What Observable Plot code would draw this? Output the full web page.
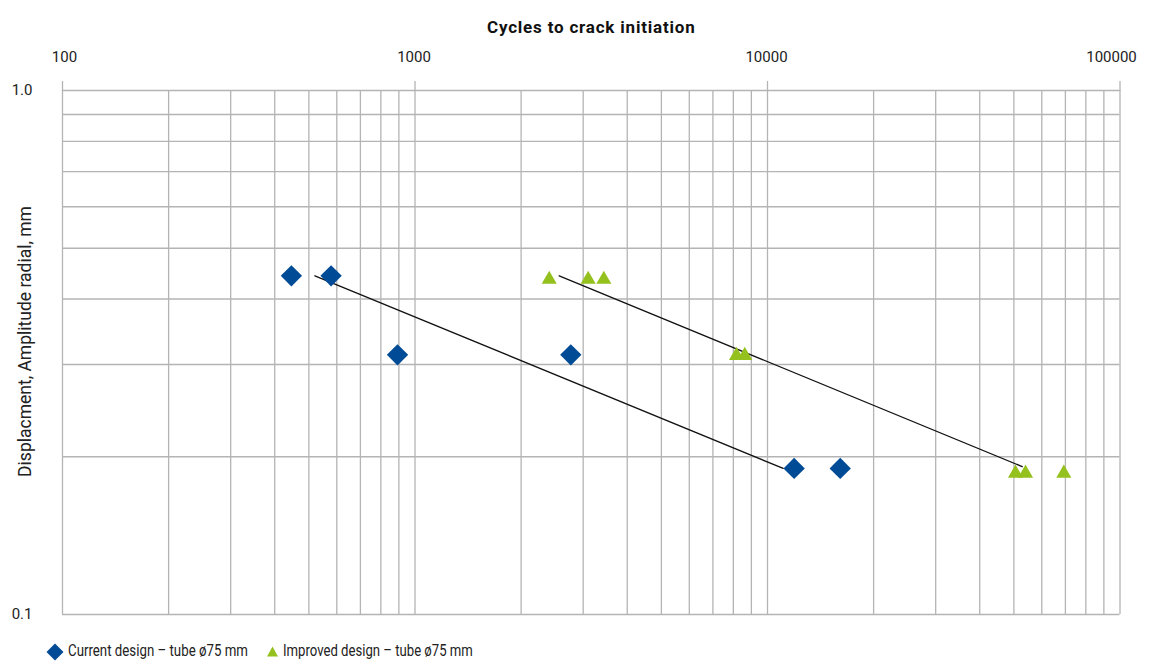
<!DOCTYPE html>
<html>
<head>
<meta charset="utf-8">
<script src="https://cdn.jsdelivr.net/npm/d3@7"></script>
<script src="https://cdn.jsdelivr.net/npm/@observablehq/plot@0.6"></script>
<style>
  html, body { margin: 0; padding: 0; background: #fff; }
  body { width: 1152px; height: 661px; position: relative; overflow: hidden; font-family: Roboto, "Liberation Sans", sans-serif; color: #222; }
  #legend { position: absolute; left: 0; top: 638px; width: 700px; height: 23px; }
</style>
</head>
<body>
<div id="chart"></div>
<svg id="legend" width="700" height="23" viewBox="0 0 700 23"></svg>
<script>
// ---- data ----
const seriesNames = ["Current design \u2013 tube \u00f875 mm", "Improved design \u2013 tube \u00f875 mm"];
const currentCycles = [446, 578, 892, 2767, 11900, 16080];
const currentAmp = [0.443, 0.443, 0.313, 0.313, 0.190, 0.190];
const improvedCycles = [2403, 3099, 3433, 8166, 8622, 50530, 53950, 69280];
const improvedAmp = [0.436, 0.436, 0.436, 0.312, 0.312, 0.186, 0.186, 0.186];
const currentTrendCycles = [520, 11080];
const currentTrendAmp = [0.443, 0.190];
const improvedTrendCycles = [2565, 52800];
const improvedTrendAmp = [0.443, 0.1915];
const xTicks = [100, 1000, 10000, 100000];
const yTicks = [0.1, 1.0];
const xGrid = [100,200,300,400,500,600,700,800,900,1000,2000,3000,4000,5000,6000,7000,8000,9000,10000,20000,30000,40000,50000,60000,70000,80000,90000,100000];
const yGrid = [0.1,0.2,0.3,0.4,0.5,0.6,0.7,0.8,0.9,1.0];
const xTitle = "Cycles to crack initiation";
const yTitle = "Displacment, Amplitude radial, mm";

const blue = "#004b96";
const green = "#95c11f";
const gridColor = "#b4b4b4";

const current = currentCycles.map((c, i) => ({cycles: c, amp: currentAmp[i]}));
const improved = improvedCycles.map((c, i) => ({cycles: c, amp: improvedAmp[i]}));
const currentTrend = currentTrendCycles.map((c, i) => ({cycles: c, amp: currentTrendAmp[i]}));
const improvedTrend = improvedTrendCycles.map((c, i) => ({cycles: c, amp: improvedTrendAmp[i]}));

const chart = Plot.plot({
  width: 1152,
  height: 636,
  marginTop: 90,
  marginBottom: 22,
  marginLeft: 62,
  marginRight: 32.5,
  style: {fontFamily: "Roboto, 'Liberation Sans', sans-serif", fontSize: "15px", color: "#222", background: "#fff"},
  x: {type: "log", domain: [100, 100000]},
  y: {type: "log", domain: [0.1, 1]},
  marks: [
    Plot.ruleX(xGrid, {stroke: gridColor, strokeWidth: 1.3, strokeOpacity: 1}),
    Plot.ruleY(yGrid, {stroke: gridColor, strokeWidth: 1.3, strokeOpacity: 1}),
    Plot.axisX({anchor: "top", ticks: xTicks, tickFormat: () => "", tickSize: 10, stroke: gridColor, strokeWidth: 1.3, label: null}),
    Plot.text(xTicks.slice(0, 1), {x: d => d, frameAnchor: "top", dy: -39, dx: 2, text: d => String(d), fontSize: 15}),
    Plot.text(xTicks.slice(1, 3), {x: d => d, frameAnchor: "top", dy: -39, dx: -1, text: d => String(d), fontSize: 15}),
    Plot.text(xTicks.slice(3), {x: d => d, frameAnchor: "top", dy: -39, dx: -8.5, text: d => String(d), fontSize: 15}),
    Plot.axisY({anchor: "left", ticks: yTicks, tickFormat: d => d.toFixed(1), tickSize: 0, tickPadding: 30, label: null}),
    Plot.text([xTitle], {frameAnchor: "top", dy: -70, fontWeight: "bold", fontSize: 17, fill: "#111"}),
    Plot.text([yTitle], {frameAnchor: "left", textAnchor: "middle", dx: -37, dy: -11, rotate: -90, fontSize: 17.5, fill: "#222"}),
    Plot.line(currentTrend, {x: "cycles", y: "amp", stroke: "#111", strokeWidth: 1.3}),
    Plot.line(improvedTrend, {x: "cycles", y: "amp", stroke: "#111", strokeWidth: 1.3}),
    Plot.dot(current, {x: "cycles", y: "amp", symbol: "diamond2", r: 9.6, fill: blue, stroke: "none"}),
    Plot.dot(improved, {x: "cycles", y: "amp", symbol: "triangle", r: 5.6, fill: green, stroke: "none"})
  ]
});
document.getElementById("chart").appendChild(chart);
chart.querySelectorAll("text").forEach(t => {
  if (t.textContent === xTitle) t.setAttribute("letter-spacing", "0.8");
});

// legend (real text, horizontally condensed to the reference's narrow face)
const ns = "http://www.w3.org/2000/svg";
const legend = document.getElementById("legend");
const legendItems = [
  {marker: `M55,5.5L63.5,14L55,22.5L46.5,14Z`, color: blue, textX: 68, textLen: 180},
  {marker: `M272.5,8.5L278,18.5L267,18.5Z`, color: green, textX: 283, textLen: 190}
];
legendItems.forEach((it, i) => {
  const p = document.createElementNS(ns, "path");
  p.setAttribute("d", it.marker);
  p.setAttribute("fill", it.color);
  legend.appendChild(p);
  const t = document.createElementNS(ns, "text");
  t.setAttribute("x", 0);
  t.setAttribute("y", 0);
  t.setAttribute("font-family", "Roboto, 'Liberation Sans', sans-serif");
  t.setAttribute("font-size", "17");
  t.setAttribute("fill", "#222");
  t.textContent = seriesNames[i];
  legend.appendChild(t);
  const w = t.getComputedTextLength() || 230;
  t.setAttribute("transform", `translate(${it.textX},18.3) scale(${(it.textLen / w).toFixed(4)},1)`);
});
</script>
</body>
</html>
